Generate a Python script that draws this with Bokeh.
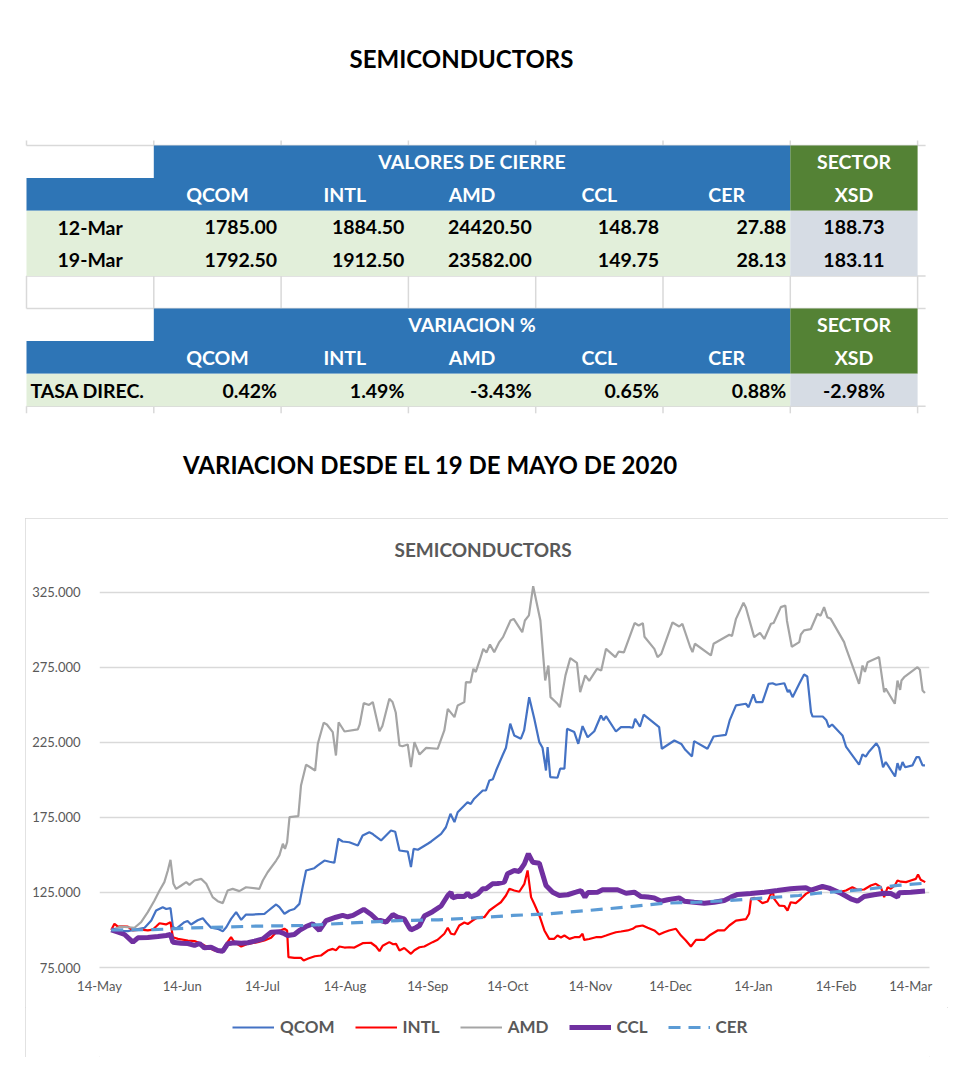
import numpy as np
import pandas as pd
from bokeh.plotting import figure
from bokeh.models import (Range1d, FixedTicker, DatetimeTickFormatter, NumeralTickFormatter,
                          Legend, LegendItem, Title, Spacer)
from bokeh.layouts import column, row
from bokeh.core.properties import value
from bokeh.embed import file_html
from bokeh.resources import INLINE

# ---------------- table data ----------------
tickers = ["QCOM", "INTL", "AMD", "CCL", "CER"]
sector_name = "XSD"
close_dates = ["12-Mar", "19-Mar"]
close_12mar = [1785.00, 1884.50, 24420.50, 148.78, 27.88]
close_19mar = [1792.50, 1912.50, 23582.00, 149.75, 28.13]
sector_close = [188.73, 183.11]
var_label = "TASA DIREC."
var_pct = [0.42, 1.49, -3.43, 0.65, 0.88]
sector_var = -2.98

# ---------------- chart data (days after 14-May-2020, index base 100) ----------------
qcom_day = [4.4, 6.5, 10.6, 14, 16.9, 19.4, 21.2, 23.7, 25, 26.6, 27.5, 28.7, 31.8, 33, 34.3, 36.8, 38.7, 40, 41.8, 44.3,
            46.2, 47.5, 49.3, 51.2, 53.1, 54.9, 57.4, 61.8, 63, 64.9, 66.2, 67.4, 69.3, 71.2, 73, 74.9, 76.1, 77.4, 80.5, 81.8,
            84.3, 86.2, 88, 89.5, 91.1, 93.6, 96.8, 98.6, 101.1, 102.4, 103, 105.5, 109.2, 110.8, 112.4, 115.5, 116.7, 117.7, 119.3, 123,
            124.3, 128, 129.8, 131.5, 133, 134.2, 137.9, 139.1, 140.4, 143.6, 144.8, 146.1, 147.4, 148.6, 151, 152.3, 153.9, 155.4, 157.9, 159.1,
            161, 162.9, 164.8, 166, 167.3, 167.9, 168.9, 171.6, 172.6, 174.2, 175.2, 177.9, 179.4, 181, 182.9, 185.4, 187.9, 188.9, 189.8, 193.5,
            195.4, 198.5, 199.8, 200.7, 202.5, 203.9, 209.7, 210.7, 215.4, 218, 219.5, 222, 222.8, 227.8, 230.1, 234.7, 236.2, 238.5, 242.2, 243.2,
            245, 246, 248.4, 250.7, 252.2, 253.5, 256.6, 257.9, 258.5, 259.7, 262.2, 264, 265.2, 266.6, 267.2, 271, 272.3, 273.3, 274.5, 278.4,
            279.7, 284.6, 285.9, 287.1, 288.4, 291.1, 292.1, 293.6, 294.6, 298.1, 299, 299.9, 300.9, 301.9, 304.6, 306.1, 307.1, 308.4, 309.3]
qcom_val = [100, 99.5, 99.2, 100.5, 101.5, 106.3, 113, 115.2, 114, 114.6, 102.3, 100.8, 105.2, 106, 103.7, 106.5, 107.9, 105, 101.5, 100.8,
            99.2, 101.8, 107.4, 111.9, 106.8, 110.3, 110.3, 110.8, 112.5, 115.2, 117, 115.2, 110.8, 113, 114, 117.4, 128.5, 139.7, 141.2, 143,
            146.3, 145.5, 144.8, 160.8, 159, 158.5, 156.3, 163, 165.2, 164, 163, 159.7, 166.3, 165.5, 153, 152.3, 141.9, 154.1, 153.5, 157.5,
            159, 164.1, 168.5, 177.5, 171.9, 178.5, 185.2, 184, 187.5, 193, 193, 199.7, 200.5, 206.3, 216.3, 221.5, 237.5, 229.7, 227.5, 233,
            255.2, 241, 225.2, 221.5, 206.3, 221.9, 201.9, 201.5, 207.5, 207.5, 234.1, 231.9, 224.1, 235.9, 228.5, 232.5, 243, 239.8, 242.5, 232.3,
            235.2, 235.2, 234.8, 240.8, 235.5, 243.5, 235.2, 220.8, 226.3, 224, 220.1, 215.7, 225.9, 220.8, 229, 230.1, 240.1, 249.7, 250.8, 248.5,
            257, 251.9, 251.9, 264.1, 264.5, 263.5, 264.5, 258.5, 260, 255.2, 264.1, 270.3, 269, 245.2, 242.3, 242.3, 240, 235.2, 237, 229.7,
            222.3, 210.3, 217, 215.5, 219, 224.5, 221.5, 208.5, 212, 202.3, 211.2, 206.5, 211.9, 208.5, 209.7, 215.2, 215.2, 209.7, 209.7]

intl_day = [4.4, 5.6, 6.9, 8.1, 10.6, 12.5, 15.6, 18.1, 20, 21.2, 22.5, 24.9, 26.6, 27.5, 29.4, 33.1, 35.6, 38.1, 40.6, 43.1,
            45.6, 47.5, 49.3, 50.5, 53.1, 55.6, 59.3, 61.8, 64.3, 66.2, 69.3, 70.3, 70.8, 73, 75.5, 76.5, 78.2, 80.7, 83, 85.5,
            87.4, 88.6, 89.9, 91.8, 93.6, 95.5, 98.6, 101.7, 103.6, 104.9, 106.1, 108.6, 110, 111.1, 112.4, 114.2, 116.7, 118, 119.9, 121.7,
            124.8, 126.7, 129.2, 130.5, 131.7, 133, 134.8, 136.7, 138, 139.8, 141.7, 144.2, 146.1, 148.6, 150.4, 152.3, 153.6, 155.4, 157.3, 159.2,
            160.4, 161.7, 163, 164.8, 166.7, 168.5, 170.4, 171.6, 172.9, 174.2, 176.1, 178, 179.8, 181, 181.6, 183.5, 186, 187.9, 189.8, 191.7,
            193.5, 195.4, 197.9, 199.8, 201, 203.5, 205.4, 207.9, 209.7, 211.6, 213.4, 216, 217.9, 219.7, 221.6, 223.5, 226.6, 228.5, 231.6, 234.1,
            236, 238.5, 240.4, 242.2, 243.4, 244.1, 245.4, 246.6, 248.4, 250.3, 252.2, 252.8, 254.7, 256.6, 257.8, 259, 260.9, 262.8, 264.7, 266.6,
            269.7, 272.2, 274.7, 277.2, 279.7, 282.1, 284, 286.5, 289, 290.9, 292.8, 294, 295.3, 296.5, 298, 299, 300.3, 302.2, 304, 305.9,
            306.7, 307.7, 309.4]
intl_val = [100, 104.1, 102.3, 102.5, 102.3, 99.7, 100.3, 99.7, 100.3, 102.3, 104.5, 103.7, 105.2, 95.2, 94.1, 93, 92.6, 90.8, 88.5, 86.3,
            85.2, 90.8, 95.2, 92, 89, 90.8, 91.9, 93, 94.8, 98.5, 100.8, 99.7, 81.9, 81.4, 81.4, 79.7, 81, 82.5, 83, 86.3,
            87.4, 86.5, 89, 88.3, 88.5, 88.3, 91.2, 91.5, 89, 85.9, 89.5, 91.9, 90.5, 90.8, 86.3, 88, 84.1, 86.5, 88.5, 89,
            91.9, 93.5, 97.5, 101.5, 97.5, 97, 103, 105, 104, 106.3, 108.5, 108.5, 113, 116.3, 118.5, 123, 127.5, 126.3, 125.5, 130.8,
            139.7, 121.9, 117, 109.7, 99.7, 94.1, 94.1, 96.3, 95, 96.3, 94.1, 95.2, 95.2, 97.5, 93.4, 94, 95.2, 95.2, 96.3, 97.5,
            98.5, 99, 99.7, 100.8, 102.3, 103, 101.5, 99.7, 97, 98.5, 99.7, 100.8, 96.3, 93, 89, 93.4, 93.4, 96.3, 99.7, 99.7,
            103, 106.3, 106.8, 107.2, 110.8, 120.8, 121.4, 120.5, 117.9, 119, 126.3, 120.8, 116.3, 116, 113, 118.5, 117.9, 120.8, 124.1, 126,
            127.5, 128.1, 127.5, 125.2, 126.3, 128.5, 126.8, 127, 129.7, 130.8, 128.5, 121.9, 128.5, 127.5, 129.7, 133, 132.2, 131.9, 133, 134.1,
            137, 133.5, 131.9]

amd_day = [4.4, 8.1, 13.1, 15.6, 18.1, 20.6, 22.5, 24.3, 25.6, 26.6, 27.7, 28.7, 30.5, 32.5, 33.7, 35.6, 38.1, 40, 42.4, 44.3,
           46.2, 48, 49.9, 52.4, 54.9, 59.9, 61.2, 63, 66.2, 67.4, 68.7, 69.5, 70.3, 71.2, 74.5, 75.5, 77.4, 78.5, 80.8, 81.8,
           84, 85.2, 87.4, 88.6, 89.6, 91.8, 96.8, 97.5, 99, 101, 102.4, 104.9, 106, 108.6, 109.8, 111, 112.4, 113.5, 115.5, 116.7,
           118, 119.9, 122.4, 126.7, 129.2, 130.5, 133, 134.2, 136.7, 137.3, 139, 140.1, 141, 142.5, 143.8, 145, 146.3, 147.9, 149.8, 151.2,
           154, 155.2, 158.4, 159.4, 160.9, 162.5, 165.2, 167, 168.2, 169, 171.6, 172.5, 174.6, 176.4, 178.9, 180.1, 182, 183.5, 186.4, 188,
           189.8, 193.3, 194.5, 196.5, 200.5, 202, 203.6, 204.2, 207.9, 209.1, 210.5, 214.7, 217.2, 218.4, 221.3, 222.2, 223.1, 229.1, 230.1, 236,
           237, 238.5, 241.3, 242.2, 245.3, 247.5, 249.1, 251.6, 252.6, 255.3, 257, 257.6, 259.4, 262.2, 262.8, 264, 266.5, 269, 270.2, 271.5,
           272.7, 274, 279, 279.6, 284.6, 285.9, 286.8, 287.8, 292.1, 294, 294.6, 298, 299, 300, 300.5, 301.5, 306.5, 307.4, 308.4, 309.3]
amd_val = [100, 102.3, 101.5, 105.2, 111.9, 119.7, 126.3, 131.9, 139.7, 146.8, 130.8, 127.4, 129.5, 131.9, 130.1, 133, 134.1, 130.8, 121.9, 119.2,
           117.9, 126.3, 127.4, 125.9, 128.5, 127.4, 133, 138.5, 146.3, 149.7, 157.5, 154.1, 158.5, 175.2, 175.9, 196.3, 210.1, 209, 206.3, 224.1,
           238.1, 237, 231.9, 216.3, 238.5, 232.3, 233.7, 237, 251.2, 250, 251.9, 232.5, 236, 254.1, 252, 245, 223, 222.5, 223.7, 208.6,
           225.2, 217, 221.4, 220.8, 233, 247.4, 241.9, 249.7, 251.9, 265.2, 265, 274.1, 272, 280, 287.4, 285, 290.3, 285.2, 291.9, 295.2,
           306.3, 307.4, 298.5, 306.3, 309.7, 329.2, 306.3, 266.3, 276.3, 255.2, 250.8, 248.5, 269.7, 281.2, 278.1, 258.5, 269.7, 266, 274.1, 273,
           287.4, 281.9, 285.5, 285, 304.6, 303, 304.5, 295.5, 287.4, 281.9, 284, 305, 302.3, 304, 288.8, 285.2, 290.8, 283, 290.8, 296.8,
           296, 307.4, 318.1, 315, 295.2, 298, 294, 304.1, 304.6, 315.2, 316.3, 306, 288.8, 291.9, 297, 299.7, 300.5, 310.8, 309.5, 315.2,
           308.5, 307.4, 291.9, 288.5, 264.1, 276.3, 272, 278.5, 281.9, 258.5, 261, 250.8, 266.3, 260, 266.3, 268.5, 275.2, 273.5, 259.7, 258]

ccl_day = [4.4, 7, 9.4, 12.5, 14.4, 18.1, 21.9, 25, 26.6, 27.5, 30.6, 33.1, 35.6, 37.5, 39.3, 41.8, 44.3, 46.2, 48, 50.5,
           53.1, 55.6, 58.1, 61.2, 64.3, 67.4, 69.3, 70.5, 73, 74.9, 77.4, 79.9, 82.4, 84.9, 88.6, 91.1, 93, 95, 99, 101.8,
           104.2, 105.5, 107.4, 109.9, 111.7, 114.2, 116.1, 116.7, 118.5, 119.9, 121.7, 124.8, 128, 130.5, 131.7, 132.3, 134.2, 136.7, 137.9, 139.1,
           141.7, 143.6, 144.8, 147.3, 149.2, 151.7, 152.9, 155.4, 157.3, 159.2, 160.7, 162.3, 164.8, 167.3, 169.8, 172.3, 175.4, 178.5, 180.4, 181.9,
           183, 186.6, 188.5, 191.7, 194.1, 197.3, 200.4, 202.9, 205.4, 207.9, 210.4, 212.9, 217.2, 219.1, 222.8, 226.6, 230.3, 234.1, 236.6, 239.1,
           244, 249.1, 254, 259, 261.5, 264.7, 266.6, 270.9, 273.4, 277.8, 281.5, 284, 286.5, 290.2, 294, 296.5, 299, 299.6, 304, 309.3]
ccl_val = [100, 98.5, 97, 91.9, 94.8, 95, 95.6, 96.3, 97, 91.9, 91.2, 91, 89.7, 91, 88.1, 88.5, 86.3, 85.9, 90.8, 91.5,
           91.2, 91.5, 92.6, 94.1, 98.5, 98.8, 97.5, 96.3, 97, 99.7, 102.3, 104.1, 99.7, 106.3, 108.5, 109.7, 108.8, 109.7, 113.8, 110.3,
           106.3, 106.3, 105.2, 110.3, 108.5, 107.4, 101.5, 100.1, 101.5, 103, 109.3, 112.2, 116, 123, 125.2, 121.5, 122.5, 122.3, 124.5, 122,
           124, 127.5, 127.5, 130.8, 131, 131.9, 137.5, 139.7, 139, 144.1, 150.8, 145.2, 144.5, 129.7, 125.2, 123, 123.5, 125.2, 126.3, 121.9,
           125, 125.2, 126.8, 126.8, 126.8, 124.5, 125.2, 122.3, 122, 121.4, 119.2, 120.2, 121.4, 119.2, 118.5, 117.9, 118.5, 119.7, 121.9, 123.7,
           124.3, 125.2, 126.3, 127.5, 127.8, 128.1, 126.5, 129, 127.9, 124.5, 120.8, 119.2, 122.3, 123.5, 124.5, 124.3, 121.9, 124.8, 125.2, 126]

cer_day = [4.4, 20, 35, 57, 77, 92, 112, 127, 145, 155, 168, 183, 197, 212, 224, 236, 250, 262, 269, 279, 289, 299, 309.3]
cer_val = [100, 100.2, 101.4, 102.5, 103, 104.5, 106.3, 106.8, 108.5, 109.7, 110.8, 113, 115.2, 117.9, 118.5, 119.7, 121.4, 123,
           124.5, 125.9, 127.5, 129.7, 131.2]

series_names = ["QCOM", "INTL", "AMD", "CCL", "CER"]
x_tick_labels = ["14-May", "14-Jun", "14-Jul", "14-Aug", "14-Sep", "14-Oct", "14-Nov", "14-Dec", "14-Jan", "14-Feb", "14-Mar"]
y_ticks = [75, 125, 175, 225, 275, 325]

# ---------------- styles ----------------
FONT = value("Lato")
BLUE_HDR = "#2E75B6"
GREEN_HDR = "#548235"
LIGHT_GREEN = "#E2EFDA"
GREY_BLUE = "#D6DCE4"
GRID = "#D9D9D9"
TXT_GREY = "#595959"
LINE_STYLES = [dict(line_color="#4472C4", line_width=2.2),
               dict(line_color="#FF0000", line_width=2.2),
               dict(line_color="#A5A5A5", line_width=2.2),
               dict(line_color="#7030A0", line_width=5),
               dict(line_color="#5B9BD5", line_width=3.2, line_dash="12 8")]

# ---------------- top figure: titles + table ----------------
top = figure(width=980, height=518, x_range=Range1d(0, 980), y_range=Range1d(518, 0),
             output_backend="svg", toolbar_location=None, min_border=0,
             x_axis_location=None, y_axis_location=None)
top.grid.visible = False
top.outline_line_color = None

X0, CW = 26.0, 127.3
Y0, RH = 145.0, 32.6
def cx(i):
    return X0 + i * CW
def ry(j):
    return Y0 + j * RH

# faint sheet gridlines
h_rows = [0, 4, 5, 8]
top.segment(x0=[cx(0)] * len(h_rows), x1=[cx(7) + 8] * len(h_rows), y0=[ry(r) for r in h_rows],
            y1=[ry(r) for r in h_rows], line_color=GRID, line_width=1.5)
vc = list(range(8))
top.segment(x0=[cx(c) for c in vc], x1=[cx(c) for c in vc], y0=[ry(4)] * 8, y1=[ry(5)] * 8, line_color=GRID, line_width=1.5)
top.segment(x0=[cx(c) for c in vc], x1=[cx(c) for c in vc], y0=[ry(8)] * 8, y1=[ry(8) + 7] * 8, line_color=GRID, line_width=1.5)
top.segment(x0=[cx(c) for c in vc], x1=[cx(c) for c in vc], y0=[ry(0) - 5] * 8, y1=[ry(0)] * 8, line_color=GRID, line_width=1.5)

# coloured cells (col0, col1, row0, row1, colour)
cells = []
for b in (0, 5):
    cells.append((1, 6, b, b + 1, BLUE_HDR))
    cells.append((0, 6, b + 1, b + 2, BLUE_HDR))
    cells.append((6, 7, b, b + 2, GREEN_HDR))
cells.append((0, 6, 2, 4, LIGHT_GREEN))
cells.append((6, 7, 2, 4, GREY_BLUE))
cells.append((0, 6, 7, 8, LIGHT_GREEN))
cells.append((6, 7, 7, 8, GREY_BLUE))
top.quad(left=[cx(c[0]) for c in cells], right=[cx(c[1]) for c in cells],
         top=[ry(c[2]) for c in cells], bottom=[ry(c[3]) for c in cells],
         fill_color=[c[4] for c in cells], line_color=None)

def rc(j):
    return (ry(j) + ry(j + 1)) / 2
def cc(i):
    return (cx(i) + cx(i + 1)) / 2

TS = "19.5px"
# header texts (white)
hx, hy, ht = [], [], []
for b, group in ((0, "VALORES DE CIERRE"), (5, "VARIACION %")):
    hx.append((cx(1) + cx(6)) / 2); hy.append(rc(b)); ht.append(group)
    for i, t in enumerate(tickers):
        hx.append(cc(i + 1)); hy.append(rc(b + 1)); ht.append(t)
    hx.append(cc(6)); hy.append(rc(b)); ht.append("SECTOR")
    hx.append(cc(6)); hy.append(rc(b + 1)); ht.append(sector_name)
top.text(x=hx, y=hy, text=ht, text_color="white", text_font=FONT, text_font_style="bold",
         text_font_size=TS, text_align="center", text_baseline="middle")

# values (right aligned)
vx, vy, vt = [], [], []
for k, vals in enumerate((close_12mar, close_19mar)):
    for i, v in enumerate(vals):
        vx.append(cx(i + 2) - 4); vy.append(rc(2 + k)); vt.append(f"{v:.2f}")
for i, v in enumerate(var_pct):
    vx.append(cx(i + 2) - 4); vy.append(rc(7)); vt.append(f"{v:.2f}%")
top.text(x=vx, y=vy, text=vt, text_color="black", text_font=FONT, text_font_style="bold",
         text_font_size=TS, text_align="right", text_baseline="middle")

# centred texts (row labels and sector)
sx, sy, st = [], [], []
for k, d in enumerate(close_dates):
    sx.append(cc(0)); sy.append(rc(2 + k)); st.append(d)
    sx.append(cc(6)); sy.append(rc(2 + k)); st.append(f"{sector_close[k]:.2f}")
sx.append(cc(6)); sy.append(rc(7)); st.append(f"{sector_var:.2f}%")
top.text(x=sx, y=sy, text=st, text_color="black", text_font=FONT, text_font_style="bold",
         text_font_size=TS, text_align="center", text_baseline="middle")
top.text(x=[cx(0) + 4], y=[rc(7)], text=[var_label], text_color="black", text_font=FONT,
         text_font_style="bold", text_font_size=TS, text_align="left", text_baseline="middle")

# page titles
top.text(x=[461, 430], y=[58, 464], text=["SEMICONDUCTORS", "VARIACION DESDE EL 19 DE MAYO DE 2020"],
         text_color="black", text_font=FONT, text_font_style="bold", text_font_size="24px",
         text_align="center", text_baseline="middle")

# ---------------- chart ----------------
BASE = pd.Timestamp("2020-05-14")
def to_dates(days):
    return (BASE + pd.to_timedelta(np.asarray(days, dtype=float), unit="D")).values

chart = figure(width=923, height=489, x_axis_type="datetime",
               x_range=Range1d(BASE, pd.Timestamp("2021-03-21")), y_range=Range1d(75, 338.3),
               output_backend="svg", toolbar_location=None,
               min_border_left=74, min_border_right=19, min_border_top=54, min_border_bottom=40)
chart.outline_line_color = None
chart.xgrid.visible = False
chart.ygrid.grid_line_color = GRID
chart.ygrid.grid_line_width = 1.3

tick_dates = pd.date_range(BASE, periods=len(x_tick_labels), freq=pd.DateOffset(months=1))
tick_ms = [float(t.value // 10**6) for t in tick_dates]
chart.xaxis.ticker = FixedTicker(ticks=tick_ms)
fmt = "%d-%b"
chart.xaxis.formatter = DatetimeTickFormatter(days=fmt, months=fmt, years=fmt, hours=fmt,
                                              minutes=fmt, seconds=fmt, milliseconds=fmt, microseconds=fmt,
                                              minsec=fmt, hourmin=fmt)
chart.xaxis.major_label_overrides = {ms: lab for ms, lab in zip(tick_ms, x_tick_labels)}
chart.yaxis.ticker = FixedTicker(ticks=y_ticks)
chart.ygrid.ticker = FixedTicker(ticks=y_ticks)
chart.yaxis.formatter = NumeralTickFormatter(format="0.000")
for ax in (chart.xaxis, chart.yaxis):
    ax.major_tick_line_color = None
    ax.minor_tick_line_color = None
    ax.major_label_text_font = "Lato"
    ax.major_label_text_font_size = "13px"
    ax.major_label_text_color = TXT_GREY
chart.yaxis.axis_line_color = None
chart.xaxis.axis_line_color = GRID
chart.xaxis.axis_line_width = 1.3
chart.yaxis.major_label_standoff = 13
chart.xaxis.major_label_standoff = 4

chart.title = Title(text="SEMICONDUCTORS", align="left", offset=295, text_font="Lato",
                    text_font_size="19px", text_font_style="bold", text_color=TXT_GREY,
                    standoff=23)

series = [(qcom_day, qcom_val), (intl_day, intl_val), (amd_day, amd_val), (ccl_day, ccl_val), (cer_day, cer_val)]
for (d, v), stl in zip(series, LINE_STYLES):
    chart.line(to_dates(d), v, **stl)

# ---------------- legend strip (inside the same chart box) ----------------
leg = figure(width=923, height=50, x_range=Range1d(0, 1), y_range=Range1d(0, 1),
             output_backend="svg", toolbar_location=None, min_border=0,
             x_axis_location=None, y_axis_location=None)
leg.grid.visible = False
leg.outline_line_color = None
# legend keys only: the renderers hold no drawable point
leg_renderers = [leg.line(x=[np.nan, np.nan], y=[np.nan, np.nan], **stl) for stl in LINE_STYLES]
legend = Legend(items=[LegendItem(label=n, renderers=[r]) for n, r in zip(series_names, leg_renderers)],
                orientation="horizontal", location=(206, 20), border_line_color=None,
                background_fill_alpha=0, label_text_font="Lato", label_text_font_style="bold",
                label_text_font_size="17px", label_text_color=TXT_GREY, glyph_width=42,
                label_standoff=6, spacing=20, padding=0, margin=0)
legend.location = (133, 20)
leg.add_layout(legend, "center")

box = column(chart, leg)
box.styles = {"outline": "1px solid #D9D9D9", "outline-offset": "-1px"}
layout = column(top, row(Spacer(width=25, height=539), box))
open("out.html", "w").write(file_html(layout, INLINE))
